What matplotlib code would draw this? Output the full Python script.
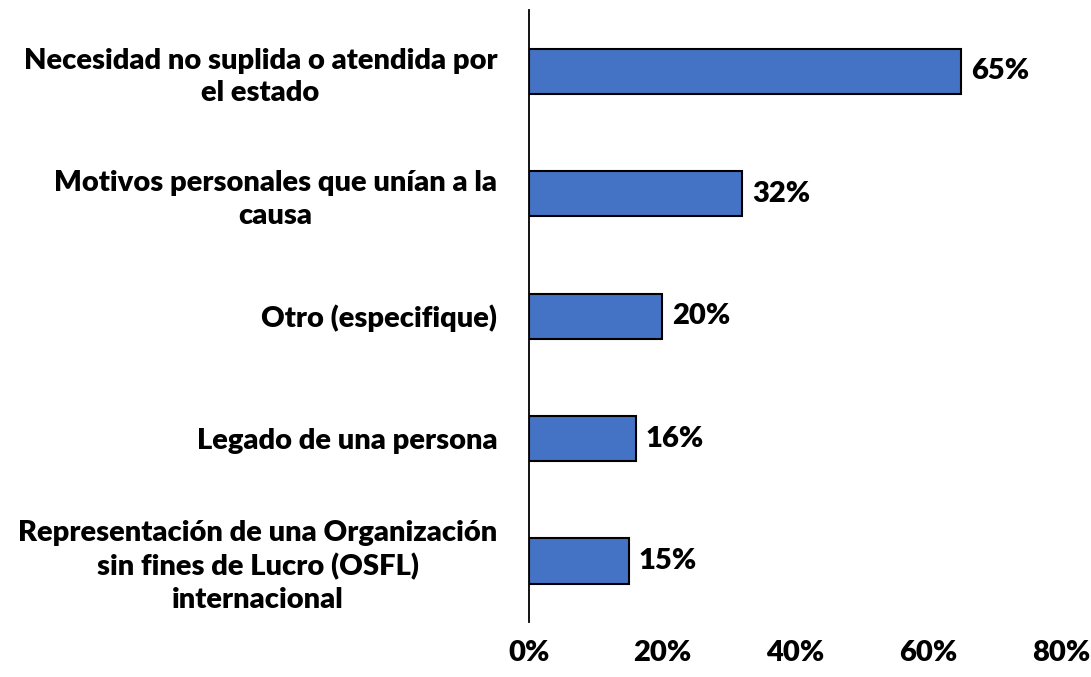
import matplotlib
matplotlib.use('Agg')
import matplotlib.pyplot as plt
from matplotlib.ticker import FuncFormatter

plt.rcParams['font.family'] = ['Lato', 'DejaVu Sans']

categorias = [
    'Necesidad no suplida o atendida por\nel estado',
    'Motivos personales que unían a la\ncausa',
    'Otro (especifique)',
    'Legado de una persona',
    'Representación de una Organización\nsin fines de Lucro (OSFL)\ninternacional',
]
valores = [0.65, 0.32, 0.20, 0.16, 0.15]
ticks_x = [0, 0.2, 0.4, 0.6, 0.8]

tam = 21

fig = plt.figure(facecolor='w', figsize=(10.91, 6.77), dpi=100)
ax = fig.add_axes([0.485, 0.081, 0.4875, 0.904])

pos = list(range(len(categorias)))
ax.barh(pos, valores, height=0.37, color='#4472C4', edgecolor='black', linewidth=1.5)
ax.set_ylim(len(categorias) - 0.5, -0.5)
ax.set_xlim(0, 0.8)

for p, v in zip(pos, valores):
    ax.text(v + 0.015, p, '{:.0f}%'.format(v * 100), va='center', ha='left',
            fontsize=tam, fontweight='heavy', color='black')

ax.set_yticks(pos)
ax.set_yticklabels(categorias, fontsize=tam, fontweight='heavy')
for lab in ax.get_yticklabels():
    lab.set_multialignment('center')
    lab.set_linespacing(1.3)
ax.set_xticks(ticks_x)
ax.xaxis.set_major_formatter(FuncFormatter(lambda x, _: '{:.0f}%'.format(x * 100)))
for lab in ax.get_xticklabels():
    lab.set_fontsize(tam)
    lab.set_fontweight('heavy')

ax.tick_params(axis='both', length=0)
ax.tick_params(axis='y', pad=23)
ax.tick_params(axis='x', pad=13)
for s in ['top', 'right', 'bottom']:
    ax.spines[s].set_visible(False)
ax.spines['left'].set_linewidth(1.3)

fig.savefig('out.png', dpi=100)
plt.close()
